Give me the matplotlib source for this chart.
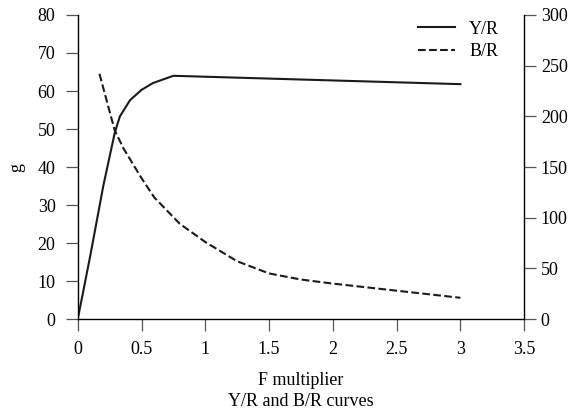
import matplotlib
matplotlib.use("Agg")
import matplotlib.pyplot as plt

plt.rcParams['font.family'] = ['Liberation Serif', 'DejaVu Serif']
plt.rcParams['font.size'] = 13

# Y/R curve (left axis, g)
yr_x = [0, 0.1, 0.2, 0.29, 0.33, 0.41, 0.5, 0.59, 0.75, 3.0]
yr_y = [0, 17, 35, 49, 53.3, 57.6, 60.3, 62.1, 64.0, 61.8]

# B/R curve (right axis)
br_x = [0.17, 0.29, 0.36, 0.5, 0.6, 0.8, 1.0, 1.25, 1.5, 1.75, 2.0, 2.5, 3.0]
br_y = [242, 186, 168, 139, 120, 94, 76, 57, 45, 39, 35, 28, 21]

x_ticks = [0, 0.5, 1, 1.5, 2, 2.5, 3, 3.5]
x_ticklabels = ['0', '0.5', '1', '1.5', '2', '2.5', '3', '3.5']

fig = plt.figure(figsize=(5.76, 4.16), dpi=100)
ax = fig.add_axes([0.135, 0.233, 0.775, 0.731])
ax2 = ax.twinx()

l1, = ax.plot(yr_x, yr_y, color='#1a1a1a', lw=1.5, label='Y/R')
l2, = ax2.plot(br_x, br_y, color='#1a1a1a', lw=1.5, ls='--', label='B/R')

ax.set_xlim(0, 3.5)
ax.set_ylim(0, 80)
ax2.set_ylim(0, 300)
ax.set_xticks(x_ticks)
ax.set_xticklabels(x_ticklabels)
ax.set_yticks(range(0, 81, 10))
ax2.set_yticks(range(0, 301, 50))

for a in (ax, ax2):
    a.spines['top'].set_visible(False)
    a.tick_params(direction='out', length=8.5, width=0.9, color='#555555')
ax.tick_params(axis='y', pad=7.5)
ax.tick_params(axis='x', pad=7.5)
ax2.tick_params(axis='y', pad=3.5)
ax.spines['right'].set_visible(False)
ax2.spines['left'].set_visible(False)
ax2.spines['bottom'].set_visible(False)
for s in ('left', 'bottom'):
    ax.spines[s].set_linewidth(1.0)
ax2.spines['right'].set_linewidth(1.0)

ax.set_ylabel('g', labelpad=9)
ax.set_xlabel('F multiplier\nY/R and B/R curves', labelpad=10, linespacing=1.3)

ax.legend([l1, l2], ['Y/R', 'B/R'], loc='upper right', frameon=False,
          bbox_to_anchor=(0.968, 1.017), handlelength=2.0, borderaxespad=0.2,
          labelspacing=0.3)

fig.savefig('out.png', dpi=100)
